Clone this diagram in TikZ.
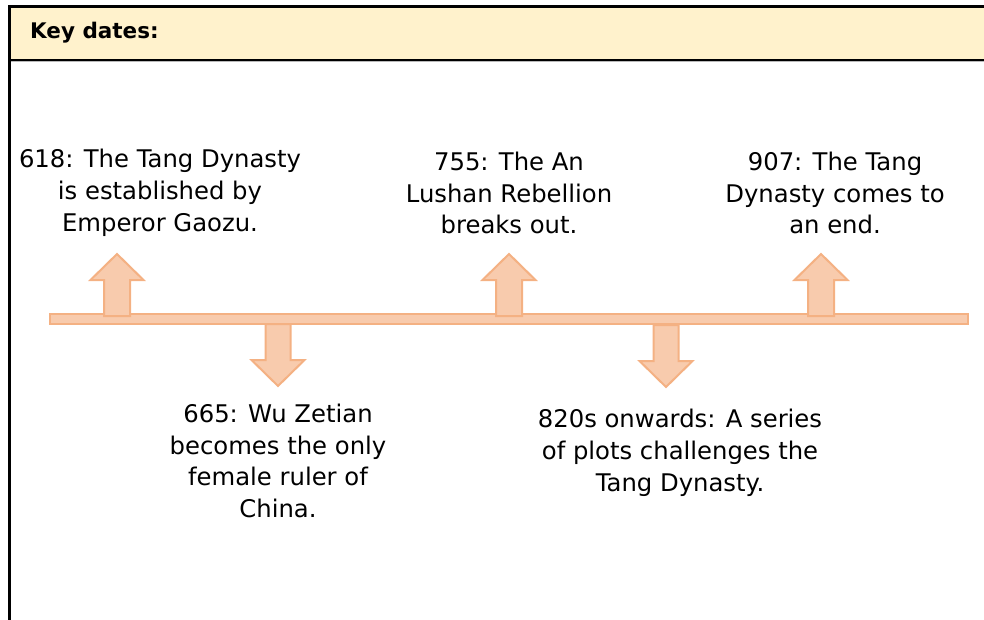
\documentclass[tikz,border=0pt]{standalone}
\usepackage{fontspec}
\setmainfont{DejaVu Sans}
\begin{document}
\begin{tikzpicture}[x=1pt,y=-1pt,
  frameline/.style={line width=3pt,draw=black},
  bar/.style={fill=peach,draw=peachline,line width=2pt},
  event/.style={align=center,font=\fontsize{24.3}{31.8}\selectfont,inner sep=0pt},
  uparrow/.pic={\draw[bar,line join=miter] (-13,0) -- (-13,-36) -- (-26.5,-36) -- (0,-62) -- (26.5,-36) -- (13,-36) -- (13,0) -- cycle;},
  downarrow/.pic={\draw[bar,line join=miter] (-12.5,0) -- (-12.5,36) -- (-26.5,36) -- (0,62) -- (26.5,36) -- (12.5,36) -- (12.5,0) -- cycle;}]
\definecolor{peach}{HTML}{F8CBAD}
\definecolor{peachline}{HTML}{F4B183}
\definecolor{header}{HTML}{FFF2CC}
\useasboundingbox (0,0) rectangle (984,620);
\clip (0,0) rectangle (984,620);
% panel with its heading band
\fill[header] (9,7) rectangle (1000,60);
\draw[line width=2pt,gray!55] (9,61.5) -- (1000,61.5);
\draw[line width=2.6pt] (9,60) -- (1000,60);
\draw[frameline] (9,650) -- (9,7) -- (1000,7);
\node[anchor=west,font=\fontsize{21.5}{24}\selectfont\bfseries,inner sep=0pt] (title) at (30,33) {Key dates:};
% timeline bar
\node[bar,minimum width=918pt,minimum height=10pt,inner sep=0pt] (line) at (509,319) {};
% markers
\pic at (117,316) {uparrow};
\pic at (509,316) {uparrow};
\pic at (821,316) {uparrow};
\pic at (278,324) {downarrow};
\pic at (666,325) {downarrow};
% events
\node[event] (e618) at (160,193) {618: The Tang Dynasty\\is established by\\Emperor Gaozu.};
\node[event] (e755) at (509,193) {755: The An\\Lushan Rebellion\\breaks out.};
\node[event] (e907) at (835,193) {907: The Tang\\Dynasty comes to\\an end.};
\node[event] (e665) at (278,461) {665: Wu Zetian\\becomes the only\\female ruler of\\China.};
\node[event] (e820) at (680,453) {820s onwards: A series\\of plots challenges the\\Tang Dynasty.};
\end{tikzpicture}
\end{document}
